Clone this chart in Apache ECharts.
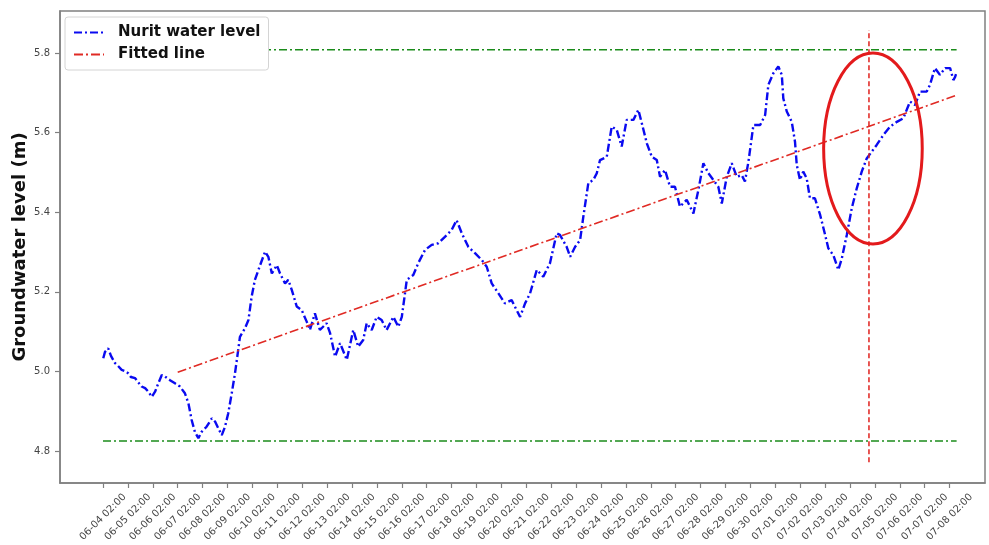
<!DOCTYPE html>
<html>
<head>
<meta charset="utf-8">
<script src="https://cdn.jsdelivr.net/npm/echarts@6/dist/echarts.min.js"></script>
<style>
  html, body { margin: 0; padding: 0; background: #ffffff; }
  #chart { width: 989px; height: 545px; }
</style>
</head>
<body>
<div id="chart"></div>
<script>
// Daily tick labels (one per day at 02:00)
const tickLabels = [
  '06-04 02:00', '06-05 02:00', '06-06 02:00', '06-07 02:00', '06-08 02:00',
  '06-09 02:00', '06-10 02:00', '06-11 02:00', '06-12 02:00', '06-13 02:00',
  '06-14 02:00', '06-15 02:00', '06-16 02:00', '06-17 02:00', '06-18 02:00',
  '06-19 02:00', '06-20 02:00', '06-21 02:00', '06-22 02:00', '06-23 02:00',
  '06-24 02:00', '06-25 02:00', '06-26 02:00', '06-27 02:00', '06-28 02:00',
  '06-29 02:00', '06-30 02:00', '07-01 02:00', '07-02 02:00', '07-03 02:00',
  '07-04 02:00', '07-05 02:00', '07-06 02:00', '07-07 02:00', '07-08 02:00'
];
const yTicks = [4.8, 5.0, 5.2, 5.4, 5.6, 5.8];

// Observation times, in days after 06-04 02:00
const levelDays = [
  0.01, 0.08, 0.21, 0.32, 0.48, 0.60, 0.75, 0.88, 1.02, 1.12,
  1.29, 1.41, 1.55, 1.69, 1.82, 1.96, 2.09, 2.22, 2.36, 2.49,
  2.69, 2.89, 3.09, 3.29, 3.43, 3.56, 3.69, 3.83, 3.96, 4.16,
  4.37, 4.50, 4.63, 4.77, 4.90, 5.03, 5.17, 5.30, 5.43, 5.50,
  5.70, 5.84, 5.97, 6.10, 6.31, 6.51, 6.64, 6.78, 6.98, 7.11,
  7.31, 7.44, 7.58, 7.78, 7.98, 8.18, 8.31, 8.51, 8.71, 8.98,
  9.12, 9.32, 9.52, 9.79, 10.05, 10.25, 10.45, 10.59, 10.79, 10.99,
  11.19, 11.39, 11.66, 11.86, 12.00, 12.20, 12.46, 12.66, 12.93, 13.20,
  13.47, 13.73, 14.00, 14.20, 14.41, 14.67, 14.94, 15.21, 15.41, 15.61,
  15.88, 16.14, 16.41, 16.61, 16.75, 16.95, 17.15, 17.42, 17.68, 17.95,
  18.22, 18.35, 18.62, 18.76, 18.96, 19.16, 19.29, 19.49, 19.69, 19.83,
  19.96, 20.23, 20.43, 20.63, 20.83, 21.03, 21.30, 21.50, 21.64, 21.84,
  22.04, 22.24, 22.37, 22.57, 22.77, 22.97, 23.17, 23.44, 23.71, 23.91,
  24.11, 24.31, 24.51, 24.71, 24.85, 25.05, 25.25, 25.45, 25.65, 25.78,
  25.92, 26.12, 26.39, 26.59, 26.72, 26.92, 27.12, 27.26, 27.32, 27.46,
  27.66, 27.79, 27.86, 27.99, 28.12, 28.26, 28.39, 28.59, 28.80, 29.00,
  29.13, 29.33, 29.53, 29.67, 29.87, 30.07, 30.27, 30.47, 30.67, 30.87,
  31.07, 31.34, 31.61, 31.88, 32.14, 32.41, 32.61, 32.81, 33.08, 33.21,
  33.41, 33.61, 33.82, 34.02, 34.15, 34.22, 34.28
];
// Groundwater level at Nurit (m)
const levelValues = [
  5.033, 5.049, 5.058, 5.039, 5.021, 5.014, 5.004, 5.001, 4.995, 4.986,
  4.983, 4.973, 4.962, 4.958, 4.949, 4.936, 4.949, 4.970, 4.991, 4.987,
  4.978, 4.970, 4.962, 4.945, 4.920, 4.878, 4.848, 4.832, 4.848, 4.861,
  4.882, 4.874, 4.857, 4.840, 4.861, 4.895, 4.945, 4.995, 5.054, 5.087,
  5.108, 5.129, 5.188, 5.230, 5.267, 5.301, 5.288, 5.246, 5.267, 5.246,
  5.221, 5.230, 5.205, 5.163, 5.154, 5.125, 5.104, 5.146, 5.104, 5.121,
  5.096, 5.037, 5.071, 5.029, 5.104, 5.062, 5.079, 5.121, 5.104, 5.137,
  5.129, 5.104, 5.137, 5.112, 5.137, 5.230, 5.242, 5.272, 5.305, 5.318,
  5.322, 5.338, 5.355, 5.380, 5.347, 5.313, 5.297, 5.280, 5.263, 5.221,
  5.196, 5.171, 5.179, 5.154, 5.137, 5.171, 5.196, 5.255, 5.238, 5.272,
  5.347, 5.343, 5.313, 5.288, 5.313, 5.330, 5.389, 5.473, 5.481, 5.498,
  5.531, 5.539, 5.615, 5.607, 5.565, 5.632, 5.632, 5.657, 5.623, 5.573,
  5.539, 5.531, 5.489, 5.506, 5.464, 5.464, 5.414, 5.431, 5.397, 5.456,
  5.523, 5.498, 5.481, 5.464, 5.422, 5.489, 5.523, 5.489, 5.493, 5.477,
  5.527, 5.619, 5.619, 5.644, 5.720, 5.749, 5.766, 5.745, 5.686, 5.653,
  5.627, 5.577, 5.519, 5.481, 5.502, 5.485, 5.435, 5.435, 5.393, 5.343,
  5.309, 5.292, 5.255, 5.284, 5.343, 5.410, 5.460, 5.502, 5.535, 5.552,
  5.569, 5.594, 5.615, 5.627, 5.636, 5.678, 5.669, 5.703, 5.703, 5.720,
  5.762, 5.745, 5.762, 5.762, 5.732, 5.740, 5.752
];

// Linear trend end points
const fitDays = [3.0, 34.28];
const fitValues = [4.998, 5.694];

// Horizontal reference levels and their extent
const bandDays = [0.0, 34.28];
const upperLevel = 5.808;
const lowerLevel = 4.825;

// Vertical marker
const markerDay = 30.76;
const markerRange = [4.772, 5.858];

// Highlight ellipse: centre (day, level) and half-axes (days, metres)
const highlightEllipse = [30.92, 5.560, 1.98, 0.240];

const tickDays = tickLabels.map((_, i) => i);
const zip = (xs, ys) => xs.map((x, i) => [x, ys[i]]);

const FONT = 'DejaVu Sans';
const FRAME = '#808080';

const chart = echarts.init(document.getElementById('chart'), null, { renderer: 'canvas' });

chart.setOption({
  animation: false,
  backgroundColor: '#ffffff',
  grid: {
    left: 60, top: 11, width: 925, height: 472,
    outerBoundsMode: 'none', containLabel: false,
    show: true, borderColor: FRAME, borderWidth: 1.5, backgroundColor: 'transparent'
  },
  legend: {
    orient: 'vertical',
    left: 65, top: 17,
    itemWidth: 30, itemHeight: 12, itemGap: 7,
    backgroundColor: '#ffffff',
    borderColor: '#d4d4d4', borderWidth: 1, borderRadius: 3,
    padding: [8, 8, 8, 8],
    itemStyle: { opacity: 0 },
    textStyle: { fontFamily: FONT, fontSize: 15, fontWeight: 'bold', color: '#111111', padding: [0, 0, 0, 9] },
    data: ['Nurit water level', 'Fitted line']
  },
  xAxis: {
    type: 'value',
    position: 'bottom',
    min: -1.727, max: 35.42,
    splitLine: { show: false },
    axisLine: { show: true, onZero: false, lineStyle: { color: FRAME, width: 1.5 } },
    axisTick: { show: true, customValues: tickDays, length: 5, lineStyle: { color: FRAME, width: 1.2 } },
    axisLabel: {
      customValues: tickDays,
      rotate: 45, align: 'center', verticalAlign: 'middle', margin: 34,
      fontFamily: FONT, fontSize: 10, color: '#444444',
      formatter: v => tickLabels[Math.round(v)]
    }
  },
  yAxis: {
    type: 'value',
    position: 'left',
    min: 4.7196, max: 5.9055,
    splitNumber: 6,
    splitLine: { show: false },
    axisLine: { show: true, onZero: false, lineStyle: { color: FRAME, width: 1.5 } },
    axisTick: { show: true, inside: false, length: 5, lineStyle: { color: FRAME, width: 1.2 } },
    axisLabel: {
      showMinLabel: false, showMaxLabel: false, margin: 10,
      fontFamily: FONT, fontSize: 10, color: '#444444',
      formatter: v => (yTicks.some(t => Math.abs(t - v) < 1e-6) ? v.toFixed(1) : '')
    },
    name: 'Groundwater level (m)',
    nameLocation: 'middle', nameGap: 31, nameMoveOverlap: false,
    nameTextStyle: { fontFamily: FONT, fontSize: 18, fontWeight: 'bold', color: '#111111' }
  },
  series: [
    {
      name: 'Nurit water level', type: 'line',
      data: zip(levelDays, levelValues),
      symbol: 'none', z: 3,
      lineStyle: { color: '#0a0af0', width: 2.4, type: [8, 3, 2, 3] },
      itemStyle: { color: '#0a0af0' }
    },
    {
      name: 'Fitted line', type: 'line',
      data: zip(fitDays, fitValues),
      symbol: 'none', z: 4,
      lineStyle: { color: '#e02a24', width: 1.6, type: [9, 3, 2, 3] },
      itemStyle: { color: '#e02a24' }
    },
    {
      name: 'upper', type: 'line',
      data: zip(bandDays, [upperLevel, upperLevel]),
      symbol: 'none', z: 2,
      lineStyle: { color: '#1b8c1b', width: 1.5, type: [8, 3, 2, 3] }
    },
    {
      name: 'lower', type: 'line',
      data: zip(bandDays, [lowerLevel, lowerLevel]),
      symbol: 'none', z: 2,
      lineStyle: { color: '#1b8c1b', width: 1.5, type: [8, 3, 2, 3] }
    },
    {
      name: 'marker', type: 'line',
      data: zip([markerDay, markerDay], markerRange),
      symbol: 'none', z: 4,
      lineStyle: { color: '#e0201c', width: 1.5, type: [5, 3] }
    },
    {
      name: 'highlight', type: 'custom', z: 5, clip: false,
      data: [highlightEllipse],
      encode: { x: 0, y: 1 },
      renderItem: (params, api) => {
        const c = api.coord([api.value(0), api.value(1)]);
        const e = api.coord([api.value(0) + api.value(2), api.value(1) + api.value(3)]);
        return {
          type: 'ellipse',
          shape: { cx: c[0], cy: c[1], rx: Math.abs(e[0] - c[0]), ry: Math.abs(c[1] - e[1]) },
          style: { fill: 'none', stroke: '#e31a1c', lineWidth: 3 }
        };
      }
    }
  ]
});
</script>
</body>
</html>
